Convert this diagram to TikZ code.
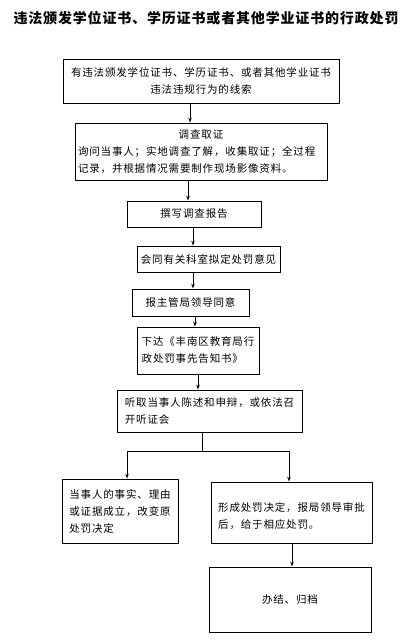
\documentclass[tikz,border=0pt]{standalone}
\usepackage{fontspec}
\usetikzlibrary{arrows.meta}
\newfontfamily\cjk[LetterSpace=8]{Noto Sans CJK SC}
\newfontfamily\cjktitle[LetterSpace=6]{Noto Sans CJK SC}
\begin{document}
\begin{tikzpicture}[x=1pt,y=-1pt,
  box/.style={draw,line width=0.8pt,inner sep=0pt,align=left,
    font=\cjk\fontsize{10.5}{17}\selectfont},
  arr/.style={line width=0.8pt,-{Stealth[length=5pt,width=3.5pt]}},
  ln/.style={line width=0.8pt}]
\useasboundingbox (0,0) rectangle (412,642);
\fill[white] (0,0) rectangle (412,642);
\node[font=\cjktitle\bfseries\fontsize{14}{16}\selectfont] (title) at (206,18)
  {违法颁发学位证书、学历证书或者其他学业证书的行政处罚};
\node[box,align=center,minimum width=276pt,minimum height=44pt] (b1) at (201,81)
  {有违法颁发学位证书、学历证书、或者其他学业证书\\违法违规行为的线索};
\node[box,text width=246pt,inner xsep=3pt,minimum height=57pt] (b2) at (201,151.5)
  {\makebox[246pt][c]{调查取证}\\询问当事人；实地调查了解，收集取证；全过程\\记录，并根据情况需要制作现场影像资料。};
\node[box,align=center,minimum width=134pt,minimum height=26pt] (b3) at (194,214) {撰写调查报告};
\node[box,align=center,minimum width=143pt,minimum height=26pt] (b4) at (208.5,259) {会同有关科室拟定处罚意见};
\node[box,align=center,minimum width=117pt,minimum height=27pt] (b5) at (190.5,302.5) {报主管局领导同意};
\node[box,minimum width=122pt,minimum height=47pt] (b6) at (198,350.5)
  {下达《丰南区教育局行\\政处罚事先告知书》};
\node[box,minimum width=185pt,minimum height=42pt] (b7) at (209.5,411)
  {听取当事人陈述和申辩，或依法召\\开听证会};
\node[box,minimum width=116pt,minimum height=64pt] (b8) at (120,511)
  {当事人的事实、理由\\或证据成立，改变原\\处罚决定};
\node[box,minimum width=161pt,minimum height=61pt] (b9) at (291.5,512.5)
  {\mbox{}\\形成处罚决定，报局领导审批\\后，给于相应处罚。};
\node[box,align=center,minimum width=162pt,minimum height=65pt] (b10) at (290,599.5) {办结、归档};
\coordinate (x1) at (190,0);
\coordinate (x2) at (188,0);
\coordinate (x3) at (193,0);
\coordinate (x4) at (193,0);
\coordinate (x5) at (195,0);
\coordinate (x6) at (198,0);
\coordinate (j) at (202,451);
\coordinate (jl) at (127,451);
\coordinate (jr) at (289,451);
\coordinate (x9) at (292,0);
\draw[arr] (b1.south -| x1) -- (b2.north -| x1);
\draw[arr] (b2.south -| x2) -- (b3.north -| x2);
\draw[arr] (b3.south -| x3) -- (b4.north -| x3);
\draw[arr] (b4.south -| x4) -- (b5.north -| x4);
\draw[arr] (b5.south -| x5) -- (b6.north -| x5);
\draw[arr] (b6.south -| x6) -- (b7.north -| x6);
\draw[ln] (b7.south -| j) -- (j);
\draw[ln] (jl) -- (jr);
\draw[arr] (jl) -- (jl |- b8.north);
\draw[arr] (jr) -- (jr |- b9.north);
\draw[arr] (b9.south -| x9) -- (b10.north -| x9);
\end{tikzpicture}
\end{document}
